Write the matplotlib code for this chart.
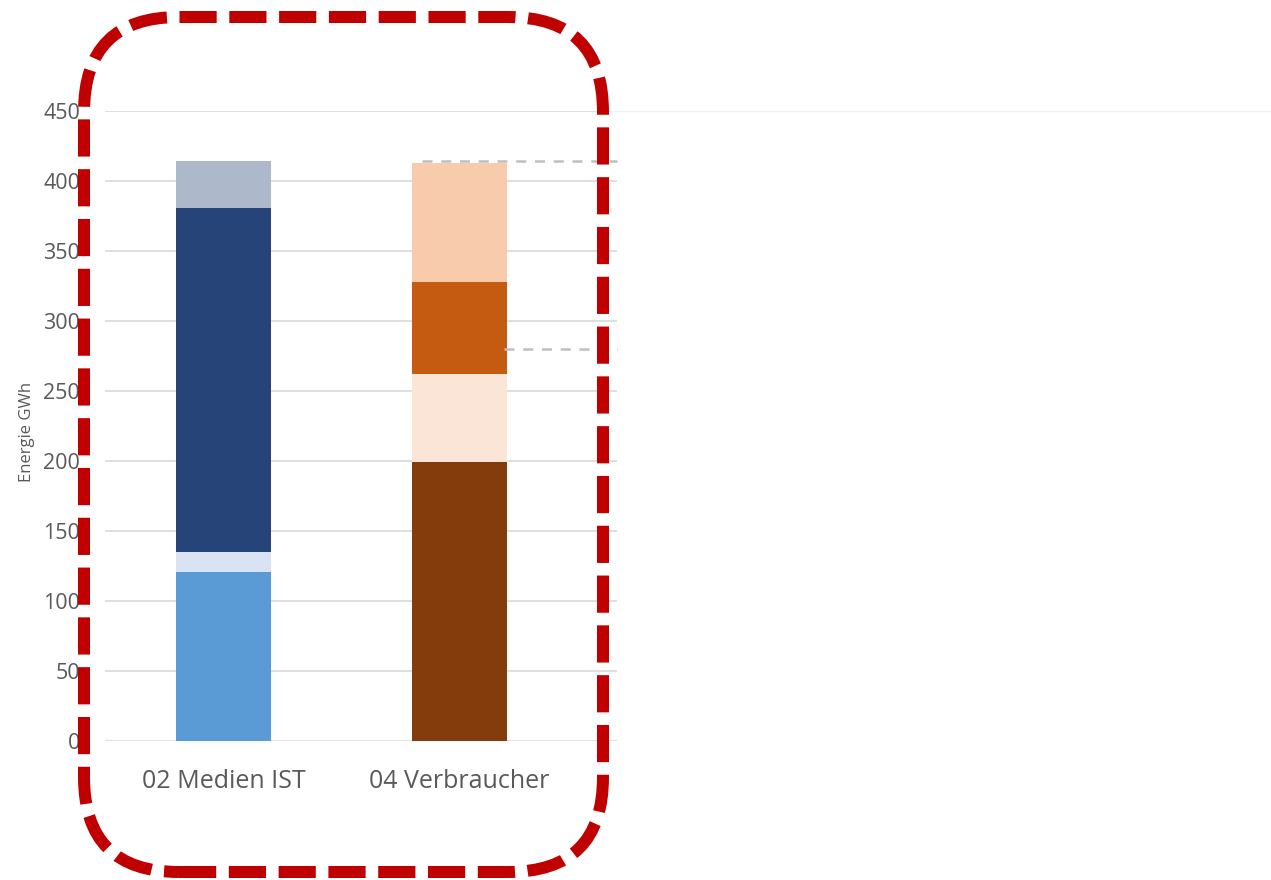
import matplotlib
matplotlib.use("Agg")
import matplotlib.pyplot as plt
from matplotlib.patches import FancyBboxPatch
from matplotlib.lines import Line2D
import numpy as np

# Energiebilanz: Bezug (Medien IST) vs. Verbrauch, in GWh
categories = ["02 Medien IST", "04 Verbraucher"]
medien_segments = [121, 14, 246, 33]
medien_colors = ["#5B9BD5", "#DAE3F3", "#264478", "#ADB9CA"]
verbraucher_segments = [199, 63, 66, 85]
verbraucher_colors = ["#843C0C", "#FBE5D6", "#C55A11", "#F8CBAD"]
ref_total = 414
ref_mid = 280
y_ticks = [0, 50, 100, 150, 200, 250, 300, 350, 400, 450]

W, H, DPI = 1271, 880, 100
plt.rcParams["font.family"] = ["Open Sans", "DejaVu Sans"]

fig = plt.figure(figsize=(W / DPI, H / DPI), dpi=DPI)
ax = fig.add_axes([105 / W, (H - 741) / H, (617 - 105) / W, 630 / H])

x = np.arange(len(categories))
width = 0.40
for xi, segs, cols in [(x[0], medien_segments, medien_colors),
                       (x[1], verbraucher_segments, verbraucher_colors)]:
    bottom = 0
    for v, c in zip(segs, cols):
        ax.bar(xi, v, width, bottom=bottom, color=c, zorder=3)
        bottom += v

ax.set_xlim(-0.502, 1.667)
ax.set_ylim(0, 450)
ax.set_yticks(y_ticks)
ax.set_xticks(x)
ax.set_xticklabels(categories, fontsize=18, color="#595959")
ax.tick_params(axis="y", length=0, pad=18, labelsize=15.5, labelcolor="#595959")
ax.tick_params(axis="x", length=0, pad=20)
ax.grid(axis="y", color="#D9D9D9", linewidth=1.2, zorder=0)
for s in ax.spines.values():
    s.set_visible(False)
ax.set_ylabel("Energie GWh", fontsize=12, color="#595959")
ax.yaxis.set_label_coords(-0.137, 0.49)

# gestrichelte Bezugslinien
ax.plot([0.841, 1.667], [ref_total, ref_total], color="#BFBFBF", lw=1.8,
        ls=(0, (4, 3.5)), zorder=4, clip_on=False)
ax.plot([1.19, 1.667], [ref_mid, ref_mid], color="#BFBFBF", lw=1.8,
        ls=(0, (4, 3.5)), zorder=4, clip_on=False)

# zarte Linie rechts neben dem Diagramm
fig.add_artist(Line2D([605, W], [H - 111, H - 111], transform=None,
                      color="#F2F2F2", lw=1.0))

# roter gestrichelter Rahmen
frame = FancyBboxPatch((84, H - 872), 603 - 84, 872 - 17,
                       boxstyle="round,pad=0,rounding_size=95",
                       transform=None, fill=False, edgecolor="#C00000",
                       linewidth=12 * 72 / DPI, linestyle=(0, (3.1, 1.05)),
                       capstyle="butt", zorder=10)
fig.add_artist(frame)

fig.savefig("out.png", dpi=DPI)
